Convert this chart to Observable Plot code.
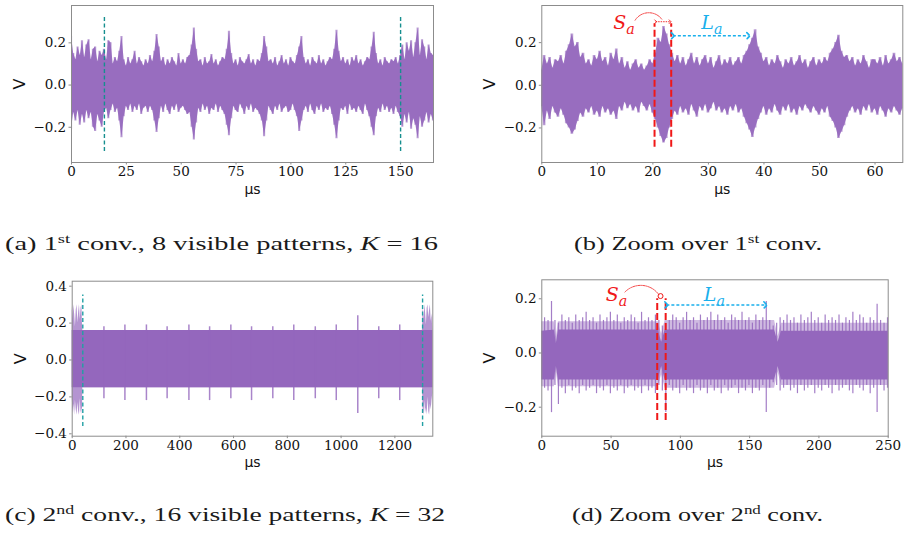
<!DOCTYPE html>
<html><head><meta charset="utf-8">
<script src="https://cdn.jsdelivr.net/npm/d3@7"></script>
<script src="https://cdn.jsdelivr.net/npm/@observablehq/plot@0.6"></script>
<style>
body{margin:0;background:#fff}
#fig{position:relative;width:904px;height:533px;overflow:hidden;background:#fff}
.panel{position:absolute}
.panel svg{overflow:visible}
[aria-label$="tick label"] text{font-family:"DejaVu Serif";font-size:13.5px;fill:#111}
[aria-label="y-axis label"] text{font-family:"DejaVu Sans";font-size:16px;fill:#111}
[aria-label="x-axis label"] text{font-family:"DejaVu Sans";font-size:14px;fill:#111}
#cap{position:absolute;left:0;top:0}
</style></head>
<body>
<div id="fig">
  <div class="panel" id="pa" style="left:0;top:0;width:450px;height:200px"></div>
  <div class="panel" id="pb" style="left:450px;top:0;width:454px;height:200px"></div>
  <div class="panel" id="pc" style="left:0;top:270px;width:450px;height:200px"></div>
  <div class="panel" id="pd" style="left:450px;top:270px;width:454px;height:200px"></div>
  <svg id="cap" width="904" height="533" font-family="Liberation Serif" font-size="18.5" fill="#1a1a1a">
    <text x="5" y="250" textLength="433" lengthAdjust="spacingAndGlyphs">(a) 1<tspan font-size="12" dy="-7">st</tspan><tspan dy="7"> conv., 8 visible patterns, </tspan><tspan font-style="italic">K</tspan> = 16</text>
    <text x="574" y="250" textLength="248" lengthAdjust="spacingAndGlyphs">(b) Zoom over 1<tspan font-size="12" dy="-7">st</tspan><tspan dy="7"> conv.</tspan></text>
    <text x="5" y="521" textLength="440" lengthAdjust="spacingAndGlyphs">(c) 2<tspan font-size="12" dy="-7">nd</tspan><tspan dy="7"> conv., 16 visible patterns, </tspan><tspan font-style="italic">K</tspan> = 32</text>
    <text x="572" y="521" textLength="251" lengthAdjust="spacingAndGlyphs">(d) Zoom over 2<tspan font-size="12" dy="-7">nd</tspan><tspan dy="7"> conv.</tspan></text>
  </svg>
</div>
<script>
// ---------- data ----------
// (a) 1st conv. : envelope sampled every 1 µs, 0..165
const stepA = 1;
const hiA = [0.23,0.15,0.12,0.18,0.14,0.21,0.13,0.19,0.215,0.12,
0.17,0.18,0.11,0.16,0.14,0.17,0.12,0.21,0.2,0.1,
0.13,0.11,0.16,0.23,0.12,0.09,0.13,0.1,0.12,0.16,
0.1,0.13,0.11,0.09,0.12,0.1,0.14,0.11,0.16,0.24,
0.18,0.11,0.13,0.09,0.12,0.1,0.13,0.11,0.09,0.15,
0.1,0.12,0.1,0.13,0.14,0.19,0.27,0.17,0.11,0.12,
0.09,0.13,0.1,0.11,0.145,0.1,0.12,0.09,0.11,0.13,
0.12,0.17,0.255,0.15,0.1,0.12,0.09,0.13,0.11,0.1,
0.12,0.145,0.1,0.12,0.09,0.12,0.11,0.15,0.23,0.18,
0.11,0.12,0.1,0.13,0.09,0.11,0.14,0.1,0.12,0.09,
0.13,0.11,0.1,0.14,0.18,0.23,0.13,0.1,0.12,0.09,
0.13,0.11,0.1,0.14,0.1,0.12,0.09,0.11,0.13,0.12,
0.17,0.26,0.16,0.11,0.13,0.1,0.12,0.09,0.13,0.11,
0.14,0.1,0.12,0.09,0.11,0.13,0.12,0.18,0.25,0.15,
0.1,0.12,0.09,0.13,0.11,0.1,0.12,0.11,0.13,0.1,
0.14,0.19,0.12,0.2,0.16,0.21,0.13,0.2,0.27,0.14,
0.215,0.18,0.12,0.19,0.15,0.14];
const loA = [-0.21,-0.13,-0.17,-0.12,-0.19,-0.14,-0.18,-0.12,-0.16,-0.13,
-0.2,-0.22,-0.14,-0.17,-0.2,-0.13,-0.11,-0.16,-0.12,-0.09,
-0.13,-0.11,-0.17,-0.25,-0.15,-0.1,-0.12,-0.09,-0.13,-0.1,
-0.12,-0.09,-0.14,-0.11,-0.1,-0.13,-0.1,-0.12,-0.17,-0.225,
-0.16,-0.1,-0.13,-0.09,-0.12,-0.14,-0.1,-0.12,-0.09,-0.13,
-0.11,-0.1,-0.12,-0.14,-0.13,-0.2,-0.26,-0.18,-0.11,-0.13,
-0.09,-0.12,-0.1,-0.14,-0.11,-0.12,-0.09,-0.13,-0.1,-0.12,
-0.14,-0.19,-0.24,-0.16,-0.1,-0.12,-0.13,-0.09,-0.11,-0.14,
-0.1,-0.12,-0.09,-0.13,-0.11,-0.12,-0.14,-0.17,-0.245,-0.17,
-0.1,-0.12,-0.14,-0.1,-0.12,-0.09,-0.13,-0.11,-0.1,-0.13,
-0.12,-0.09,-0.12,-0.15,-0.22,-0.17,-0.12,-0.1,-0.13,-0.09,
-0.12,-0.14,-0.1,-0.12,-0.09,-0.13,-0.11,-0.12,-0.1,-0.14,
-0.19,-0.255,-0.17,-0.11,-0.12,-0.1,-0.14,-0.09,-0.12,-0.11,
-0.13,-0.1,-0.12,-0.14,-0.09,-0.12,-0.15,-0.2,-0.24,-0.15,
-0.11,-0.13,-0.09,-0.12,-0.1,-0.13,-0.11,-0.14,-0.1,-0.13,
-0.15,-0.2,-0.14,-0.18,-0.13,-0.21,-0.16,-0.19,-0.255,-0.15,
-0.2,-0.17,-0.13,-0.18,-0.14,-0.17];
const patternEdgesA = [15, 150];

// (b) zoom over 1st conv. : envelope every 0.5 µs, 0..65
const stepB = 0.5;
const hiB = [0.07,0.14,0.1,0.13,0.08,0.12,0.11,0.14,0.1,0.16,
0.19,0.24,0.18,0.2,0.13,0.15,0.1,0.12,0.09,0.14,
0.12,0.16,0.11,0.13,0.09,0.15,0.12,0.17,0.1,0.13,
0.08,0.11,0.07,0.1,0.12,0.08,0.1,0.07,0.09,0.12,
0.1,0.15,0.22,0.2,0.275,0.24,0.19,0.15,0.11,0.14,
0.1,0.13,0.09,0.12,0.15,0.1,0.13,0.09,0.12,0.14,
0.1,0.13,0.08,0.11,0.14,0.09,0.12,0.1,0.13,0.09,
0.11,0.13,0.1,0.14,0.16,0.19,0.22,0.26,0.18,0.15,
0.11,0.13,0.09,0.12,0.1,0.14,0.11,0.08,0.12,0.1,
0.13,0.09,0.11,0.14,0.1,0.12,0.08,0.11,0.13,0.09,
0.12,0.1,0.13,0.11,0.15,0.17,0.2,0.235,0.16,0.13,
0.14,0.11,0.13,0.09,0.12,0.1,0.14,0.11,0.08,0.12,
0.12,0.1,0.13,0.09,0.14,0.1,0.12,0.15,0.11,0.13,
0.1];
const loB = [-0.1,-0.19,-0.12,-0.16,-0.1,-0.13,-0.15,-0.11,-0.14,-0.18,
-0.2,-0.23,-0.21,-0.17,-0.13,-0.15,-0.11,-0.13,-0.1,-0.14,
-0.12,-0.15,-0.1,-0.13,-0.11,-0.14,-0.12,-0.16,-0.1,-0.12,
-0.08,-0.11,-0.09,-0.12,-0.1,-0.13,-0.08,-0.1,-0.12,-0.09,
-0.13,-0.16,-0.2,-0.24,-0.27,-0.25,-0.2,-0.16,-0.12,-0.14,
-0.1,-0.13,-0.11,-0.14,-0.09,-0.12,-0.15,-0.1,-0.12,-0.09,
-0.13,-0.11,-0.08,-0.12,-0.1,-0.13,-0.11,-0.14,-0.1,-0.12,
-0.09,-0.13,-0.11,-0.15,-0.18,-0.21,-0.245,-0.2,-0.16,-0.13,
-0.1,-0.14,-0.11,-0.13,-0.09,-0.12,-0.14,-0.1,-0.12,-0.09,
-0.13,-0.11,-0.14,-0.1,-0.12,-0.09,-0.11,-0.13,-0.1,-0.12,
-0.14,-0.11,-0.13,-0.1,-0.15,-0.17,-0.2,-0.25,-0.22,-0.19,
-0.15,-0.12,-0.1,-0.13,-0.11,-0.14,-0.1,-0.12,-0.09,-0.13,
-0.11,-0.14,-0.1,-0.12,-0.15,-0.11,-0.13,-0.1,-0.12,-0.14,
-0.11];
const saB = [20.3, 23.3];       // S_a window (µs)
const laB = [23.6, 37.2];       // L_a arrow (µs)

// (c) 2nd conv. : envelope breakpoints + periodic spikes
const xC  = [0,3,6,9,12,15,18,21,24,27,30,33,36,38,39.5,40,1302,1303,1305,1308,1311,1314,1317,1320,1323,1326,1329,1332,1335,1338,1341];
const hiC = [0.29,0.22,0.3,0.25,0.18,0.27,0.3,0.2,0.26,0.3,0.22,0.28,0.3,0.2,0.16,0.16,0.16,0.17,0.29,0.22,0.3,0.26,0.19,0.28,0.3,0.23,0.27,0.3,0.21,0.25,0.16];
const loC = [-0.2,-0.29,-0.24,-0.3,-0.22,-0.27,-0.3,-0.23,-0.28,-0.3,-0.21,-0.29,-0.26,-0.3,-0.15,-0.15,-0.15,-0.16,-0.27,-0.3,-0.22,-0.29,-0.26,-0.3,-0.2,-0.28,-0.3,-0.24,-0.27,-0.22,-0.18];
const spikeCX  = [118,196,276,353,434,511,590,667,746,824,904,982,1062,1140,1218];
const spikeCHi = [0.18,0.19,0.19,0.18,0.19,0.18,0.19,0.18,0.18,0.19,0.18,0.19,0.24,0.18,0.19];
const spikeCLo = [-0.21,-0.22,-0.22,-0.21,-0.22,-0.22,-0.21,-0.22,-0.21,-0.22,-0.21,-0.22,-0.29,-0.21,-0.22];
const patternEdgesC = [39.4, 1303];

// (d) zoom over 2nd conv. : core band breakpoints + comb spikes
const xD       = [0,9,10.5,12,84,86.5,89,168,170.5,173,250];
const coreHiD  = [0.08,0.085,0.035,0.085,0.085,0.04,0.085,0.085,0.04,0.08,0.08];
const coreLoD  = [-0.1,-0.1,-0.05,-0.1,-0.1,-0.05,-0.1,-0.1,-0.05,-0.1,-0.1];
const fringeHiD = [0.115,0.115,0.06,0.115,0.115,0.07,0.12,0.12,0.06,0.11,0.11];
const fringeLoD = [-0.125,-0.125,-0.07,-0.125,-0.125,-0.08,-0.13,-0.13,-0.07,-0.12,-0.12];
const spikeDX = [2,4.5,7,9.5,12,14.5,17,19.5,22,24.5,27,29.5,32,34.5,37,39.5,42,44.5,47,49.5,
52,54.5,57,59.5,62,64.5,67,69.5,72,74.5,77,79.5,82,84.5,87,89.5,92,94.5,97,99.5,
102,104.5,107,109.5,112,114.5,117,119.5,122,124.5,127,129.5,132,134.5,137,139.5,142,144.5,147,149.5,
152,154.5,157,159.5,162,164.5,167,169.5,172,174.5,177,179.5,182,184.5,187,189.5,192,194.5,197,199.5,
202,204.5,207,209.5,212,214.5,217,219.5,222,224.5,227,229.5,232,234.5,237,239.5,242,244.5,247,249.5];
const spikeDHi = [0.13,0.12,0.19,0.12,0.11,0.14,0.12,0.13,0.11,0.14,
0.12,0.13,0.15,0.12,0.13,0.11,0.14,0.12,0.13,0.15,
0.12,0.14,0.11,0.13,0.12,0.14,0.13,0.11,0.15,0.12,
0.13,0.12,0.14,0.12,0.10,0.11,0.12,0.14,0.13,0.11,
0.13,0.15,0.12,0.13,0.11,0.14,0.12,0.13,0.15,0.12,
0.14,0.12,0.13,0.11,0.14,0.13,0.12,0.15,0.12,0.13,
0.11,0.14,0.12,0.13,0.19,0.12,0.10,0.11,0.13,0.12,
0.14,0.12,0.13,0.11,0.14,0.12,0.13,0.15,0.12,0.13,
0.11,0.14,0.12,0.13,0.12,0.14,0.11,0.13,0.12,0.15,
0.12,0.14,0.13,0.11,0.13,0.12,0.18,0.12,0.11,0.13];
const spikeDLo = [-0.13,-0.14,-0.22,-0.12,-0.19,-0.13,-0.15,-0.12,-0.14,-0.13,
-0.15,-0.12,-0.14,-0.13,-0.12,-0.15,-0.13,-0.14,-0.12,-0.15,
-0.13,-0.14,-0.12,-0.15,-0.13,-0.12,-0.14,-0.13,-0.15,-0.12,
-0.14,-0.13,-0.15,-0.12,-0.14,-0.22,-0.12,-0.14,-0.13,-0.15,
-0.12,-0.14,-0.13,-0.15,-0.12,-0.14,-0.13,-0.15,-0.12,-0.14,
-0.13,-0.15,-0.12,-0.14,-0.13,-0.12,-0.15,-0.13,-0.14,-0.12,
-0.15,-0.13,-0.14,-0.12,-0.22,-0.13,-0.11,-0.12,-0.14,-0.13,
-0.12,-0.14,-0.13,-0.15,-0.12,-0.14,-0.13,-0.12,-0.15,-0.13,
-0.14,-0.12,-0.13,-0.15,-0.12,-0.14,-0.13,-0.12,-0.14,-0.15,
-0.12,-0.13,-0.14,-0.12,-0.15,-0.13,-0.22,-0.12,-0.14,-0.13];
const saD = [83.3, 89.4];
const laD = [89.9, 161.4];

// tick values
const ticksAX = [0,25,50,75,100,125,150];
const ticksBX = [0,10,20,30,40,50,60];
const ticksCX = [0,200,400,600,800,1000,1200];
const ticksDX = [0,50,100,150,200,250];
const ticksY3 = [-0.2,0,0.2];
const ticksY5 = [-0.4,-0.2,0,0.2,0.4];

// ---------- styling ----------
const PURPLE = "#9467bd", RED = "#f01818", CYAN = "#1ab0ec", GRID = "#8c8c8c";
const fmt = d3.format(".1f");

const envA = hiA.map((h, i) => ({x: i * stepA, hi: h, lo: loA[i]}));
const envB = hiB.map((h, i) => ({x: i * stepB, hi: h, lo: loB[i]}));
const envC = xC.map((x, i) => ({x, hi: hiC[i], lo: loC[i]}));
const spkC = spikeCX.map((x, i) => ({x, hi: spikeCHi[i], lo: spikeCLo[i]}));
const envD = xD.map((x, i) => ({x, hi: coreHiD[i], lo: coreLoD[i], fh: fringeHiD[i], fl: fringeLoD[i]}));
const spkD = spikeDX.map((x, i) => ({x, hi: spikeDHi[i], lo: spikeDLo[i]}));

function axes(xt, yt) {
  return [
    Plot.frame({stroke: GRID, strokeWidth: 1}),
    Plot.axisX({ticks: xt, tickFormat: d => String(d), tickSize: 2.5, tickPadding: 1.5, stroke: GRID,
      label: "µs", labelAnchor: "center", labelOffset: 31, labelArrow: "none"}),
    Plot.axisY({ticks: yt, tickFormat: fmt, tickSize: 2.5, tickPadding: 2.8, stroke: GRID,
      label: "V", labelAnchor: "center", labelOffset: 58, labelArrow: "none"})
  ];
}
function noisy(data) {
  return [
    Plot.areaY(data, {x: "x", y1: "lo", y2: "hi", curve: "step", fill: PURPLE, fillOpacity: 0.6}),
    Plot.areaY(data, {x: "x", y1: "lo", y2: "hi", curve: "linear", fill: PURPLE, fillOpacity: 0.9})
  ];
}
function sub(x, y, main, color, fs) {
  return [
    Plot.text([main], {x, y, text: d => d, fill: color, fontFamily: "DejaVu Serif", fontStyle: "italic", fontSize: fs, textAnchor: "end", lineAnchor: "bottom"}),
    Plot.text(["a"], {x, y, text: d => d, fill: color, fontFamily: "DejaVu Serif", fontStyle: "italic", fontSize: fs * 0.75, textAnchor: "start", lineAnchor: "bottom", dy: 5})
  ];
}

// (a)
document.getElementById("pa").append(Plot.plot({
  width: 450, height: 200, marginLeft: 71, marginRight: 17, marginTop: 5, marginBottom: 38,
  style: {background: "transparent", overflow: "visible"},
  x: {domain: [0, 165]}, y: {domain: [-0.367, 0.377]},
  marks: [
    ...noisy(envA),
    Plot.ruleX(patternEdgesA, {y1: -0.315, y2: 0.32, stroke: "#168f8f", strokeWidth: 1.4, strokeDasharray: "4,2.5"}),
    ...axes(ticksAX, ticksY3)
  ]
}));

// (b)
document.getElementById("pb").append(Plot.plot({
  width: 454, height: 200, marginLeft: 91.3, marginRight: 1.7, marginTop: 5, marginBottom: 38,
  style: {background: "transparent", overflow: "visible"},
  x: {domain: [0, 65]}, y: {domain: [-0.362, 0.374]},
  marks: [
    ...noisy(envB),
    Plot.ruleX(saB, {y1: -0.29, y2: 0.288, stroke: RED, strokeWidth: 2, strokeDasharray: "7,3"}),
    Plot.link([0], {x1: saB[0] + 0.2, x2: saB[1] - 0.2, y1: 0.298, y2: 0.298, stroke: RED, strokeWidth: 0.9, strokeDasharray: "1.5,1", markerStart: "arrow", markerEnd: "arrow"}),
    Plot.arrow([0], {x1: 16.8, y1: 0.305, x2: 21.6, y2: 0.31, bend: 55, headLength: 0, stroke: RED, strokeWidth: 0.8, strokeDasharray: "1.5,1"}),
    Plot.link([0], {x1: laB[0], x2: laB[1], y1: 0.232, y2: 0.232, stroke: CYAN, strokeWidth: 1.6, strokeDasharray: "3,2", markerStart: "arrow", markerEnd: "arrow"}),
    ...sub(15.2, 0.262, "S", RED, 19),
    ...sub(31.0, 0.262, "L", CYAN, 19),
    ...axes(ticksBX, ticksY3)
  ]
}));

// (c)
document.getElementById("pc").append(Plot.plot({
  width: 450, height: 200, marginLeft: 71.7, marginRight: 17.7, marginTop: 10.7, marginBottom: 34.3,
  style: {background: "transparent", overflow: "visible"},
  x: {domain: [0, 1341]}, y: {domain: [-0.413, 0.427]},
  marks: [
    Plot.areaY(envC, {x: "x", y1: "lo", y2: "hi", fill: PURPLE, fillOpacity: 0.7}),
    Plot.areaY(envC, {x: "x", y1: d => Math.max(d.lo, -0.15), y2: d => Math.min(d.hi, 0.16), fill: PURPLE}),
    Plot.ruleX(spkC, {x: "x", y1: "lo", y2: "hi", stroke: PURPLE, strokeWidth: 1.5, strokeOpacity: 0.8}),
    Plot.ruleX(patternEdgesC, {y1: -0.36, y2: 0.352, stroke: "#22a0a4", strokeWidth: 1.4, strokeDasharray: "4,2.5"}),
    ...axes(ticksCX, ticksY5)
  ]
}));

// (d)
document.getElementById("pd").append(Plot.plot({
  width: 454, height: 200, marginLeft: 91.3, marginRight: 16.3, marginTop: 9.3, marginBottom: 34.3,
  style: {background: "transparent", overflow: "visible"},
  x: {domain: [0, 250]}, y: {domain: [-0.307, 0.27]},
  marks: [
    Plot.areaY(envD, {x: "x", y1: "fl", y2: "fh", fill: PURPLE, fillOpacity: 0.45}),
    Plot.ruleX(spkD, {x: "x", y1: "lo", y2: "hi", stroke: PURPLE, strokeWidth: 1.2, strokeOpacity: 0.85}),
    Plot.areaY(envD, {x: "x", y1: "lo", y2: "hi", fill: PURPLE}),
    Plot.ruleX(saD, {y1: -0.249, y2: 0.2, stroke: RED, strokeWidth: 2, strokeDasharray: "7,3"}),
    Plot.dot([0], {x: 85.7, y: 0.21, r: 2.5, stroke: RED, strokeWidth: 1, fill: "none"}),
    Plot.arrow([0], {x1: 60, y1: 0.225, x2: 84.5, y2: 0.215, bend: 50, headLength: 0, stroke: RED, strokeWidth: 0.8, strokeDasharray: "1.5,1"}),
    Plot.link([0], {x1: laD[0], x2: laD[1], y1: 0.177, y2: 0.177, stroke: CYAN, strokeWidth: 1.6, strokeDasharray: "3,2", markerStart: "arrow", markerEnd: "arrow"}),
    ...sub(55.5, 0.19, "S", RED, 19),
    ...sub(126, 0.19, "L", CYAN, 19),
    ...axes(ticksDX, ticksY3)
  ]
}));
</script>
</body></html>
